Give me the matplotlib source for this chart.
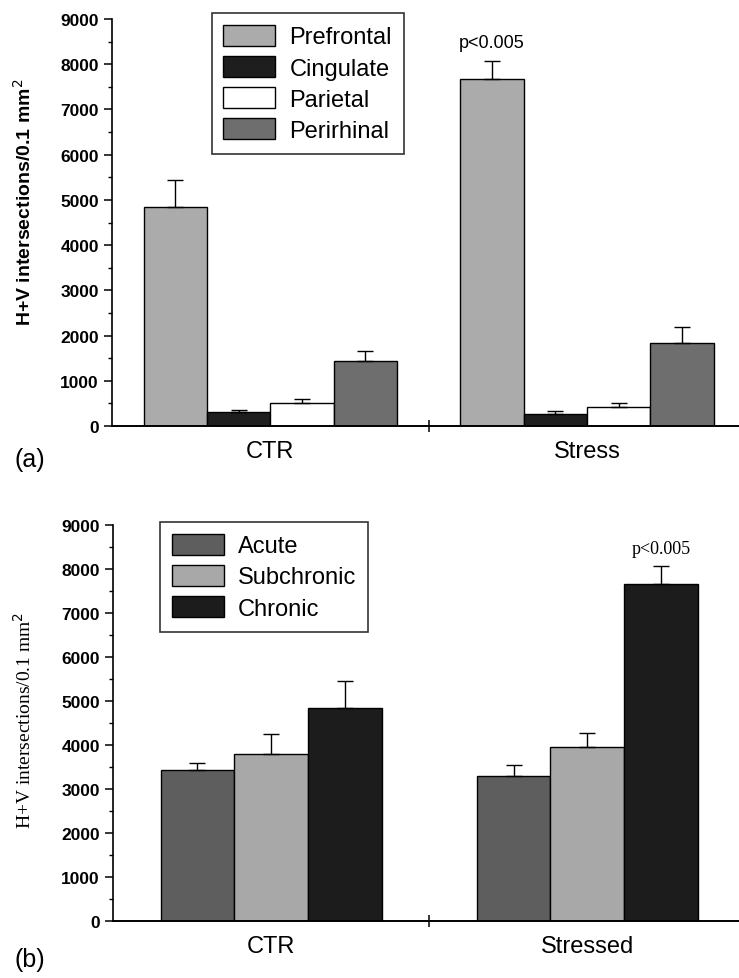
import matplotlib
matplotlib.use("Agg")
import matplotlib.pyplot as plt
import numpy as np
from matplotlib.ticker import MultipleLocator

# ---------------- data ----------------
groups_a = ["CTR", "Stress"]
regions = ["Prefrontal", "Cingulate", "Parietal", "Perirhinal"]
values_a = {
    "Prefrontal": [4850, 7670],
    "Cingulate": [300, 265],
    "Parietal": [505, 410],
    "Perirhinal": [1440, 1830],
}
errors_a = {
    "Prefrontal": [600, 400],
    "Cingulate": [50, 75],
    "Parietal": [90, 90],
    "Perirhinal": [220, 370],
}

groups_b = ["CTR", "Stressed"]
durations = ["Acute", "Subchronic", "Chronic"]
values_b = {
    "Acute": [3440, 3285],
    "Subchronic": [3800, 3965],
    "Chronic": [4840, 7655],
}
errors_b = {
    "Acute": [160, 250],
    "Subchronic": [455, 305],
    "Chronic": [620, 410],
}
yticks = [0, 1000, 2000, 3000, 4000, 5000, 6000, 7000, 8000, 9000]
p_text = "p<0.005"

# ---------------- styles ----------------
colors_a = {"Prefrontal": "#ababab", "Cingulate": "#1e1e1e",
            "Parietal": "#ffffff", "Perirhinal": "#6e6e6e"}
colors_b = {"Acute": "#5e5e5e", "Subchronic": "#a8a8a8", "Chronic": "#1c1c1c"}

SANS = ["Liberation Sans", "DejaVu Sans"]
SERIF = ["Liberation Serif", "DejaVu Serif"]

fig = plt.figure(figsize=(7.39, 9.79), dpi=100)
W, H = 739, 979


def ax_rect(left, top, right, bottom):
    return [left / W, 1 - bottom / H, (right - left) / W, (bottom - top) / H]


def style_axis(ax):
    ax.set_ylim(0, 9000)
    ax.set_xlim(0.5, 2.48)
    for s in ("top", "right"):
        ax.spines[s].set_visible(False)
    ax.spines["left"].set_linewidth(1.2)
    ax.spines["bottom"].set_linewidth(1.4)
    ax.set_yticks(yticks)
    ax.yaxis.set_minor_locator(MultipleLocator(500))
    ax.tick_params(axis="y", which="major", direction="out", length=6, width=1.1,
                   labelsize=12.5)
    ax.tick_params(axis="y", which="minor", direction="out", length=3, width=1.0)
    for lab in ax.get_yticklabels():
        lab.set_family(SANS)
        lab.set_fontweight("bold")
    ax.set_xticks([1.5], minor=True)
    ax.tick_params(axis="x", which="minor", direction="inout", length=8, width=1.1)
    ax.tick_params(axis="x", which="major", length=0, pad=10, labelsize=17)


# ---------------- panel (a) ----------------
ax1 = fig.add_axes(ax_rect(112, 20, 739, 427))
x = np.arange(1, len(groups_a) + 1)
wa = 0.2
for i, r in enumerate(regions):
    pos = x + (i - 1.5) * wa
    ax1.bar(pos, values_a[r], width=wa, color=colors_a[r], edgecolor="black",
            linewidth=1.0, label=r, zorder=2)
    ax1.errorbar(pos, values_a[r], yerr=[np.zeros(len(x)), errors_a[r]], fmt="none",
                 ecolor="black", elinewidth=1.0, capsize=6, capthick=1.0, zorder=3)
style_axis(ax1)
ax1.set_xticks(x, groups_a, family=SANS)
ax1.set_ylabel("H+V intersections/0.1 mm$^2$", family=SANS, fontsize=14,
               fontweight="bold")
ax1.yaxis.set_label_coords(-0.123, 0.553)
ax1.text(x[1] + (0 - 1.5) * wa, values_a["Prefrontal"][1] + errors_a["Prefrontal"][1] + 230,
         p_text, ha="center", va="bottom", fontsize=13, family=SANS, stretch="condensed")
leg1 = ax1.legend(loc="upper left", bbox_to_anchor=(0.159, 1.015), borderaxespad=0,
                  prop={"family": SANS, "size": 17}, frameon=True, fancybox=False,
                  edgecolor="black", handlelength=2.2, handleheight=1.0,
                  labelspacing=0.32, handletextpad=0.6, borderpad=0.5)
leg1.get_frame().set_linewidth(1.2)
fig.text(15 / W, 1 - 460 / H, "(a)", fontsize=18, family=SANS, ha="left", va="center")

# ---------------- panel (b) ----------------
ax2 = fig.add_axes(ax_rect(113, 526, 739, 922))
wb = 0.233
for i, d in enumerate(durations):
    pos = x + (i - 1) * wb
    ax2.bar(pos, values_b[d], width=wb, color=colors_b[d], edgecolor="black",
            linewidth=1.0, label=d, zorder=2)
    ax2.errorbar(pos, values_b[d], yerr=[np.zeros(len(x)), errors_b[d]], fmt="none",
                 ecolor="black", elinewidth=1.0, capsize=6, capthick=1.0, zorder=3)
style_axis(ax2)
ax2.set_xticks(x, groups_b, family=SANS)
ax2.set_ylabel("H+V intersections/0.1 mm$^2$", family=SERIF, fontsize=14)
ax2.yaxis.set_label_coords(-0.125, 0.508)
ax2.text(x[1] + wb, values_b["Chronic"][1] + errors_b["Chronic"][1] + 200,
         p_text, ha="center", va="bottom", fontsize=13, family=SERIF)
leg2 = ax2.legend(loc="upper left", bbox_to_anchor=(0.075, 1.008), borderaxespad=0,
                  prop={"family": SANS, "size": 17}, frameon=True, fancybox=False,
                  edgecolor="black", handlelength=2.2, handleheight=1.0,
                  labelspacing=0.32, handletextpad=0.6, borderpad=0.5)
leg2.get_frame().set_linewidth(1.2)
fig.text(15 / W, 1 - 960 / H, "(b)", fontsize=18, family=SANS, ha="left", va="center")

fig.savefig("out.png", dpi=100)
